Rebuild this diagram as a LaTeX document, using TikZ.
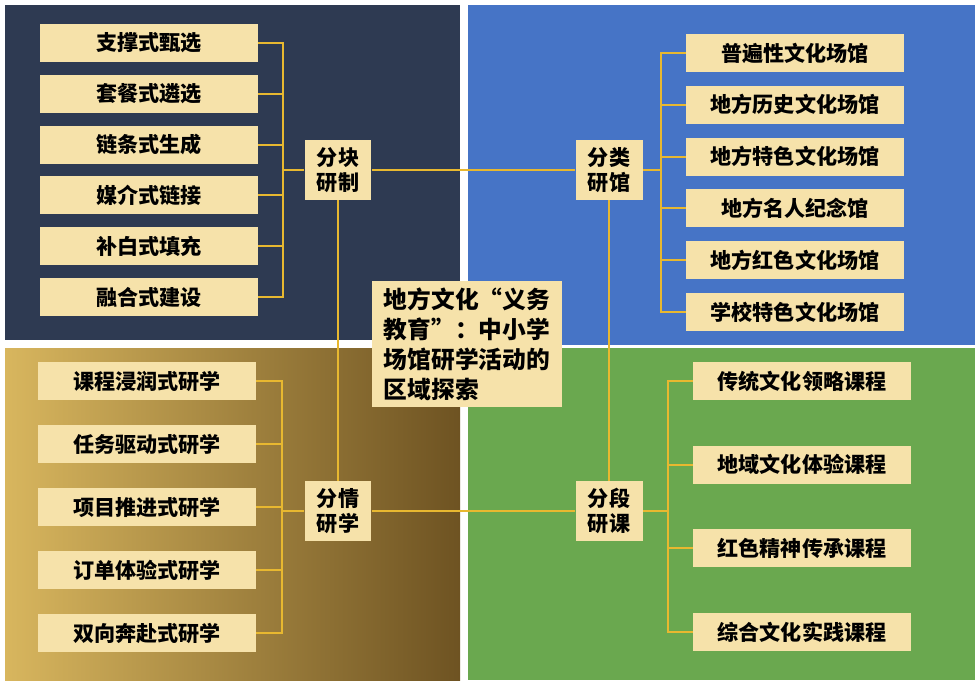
\documentclass[tikz,border=0pt]{standalone}
\usepackage{fontspec}
\newfontfamily\cjk{Noto Sans CJK SC}
\usetikzlibrary{positioning,calc}
\definecolor{myNavy}{HTML}{2E3A52}
\definecolor{myBlue}{HTML}{4674C6}
\definecolor{myGreen}{HTML}{6AA84F}
\definecolor{myGoldL}{HTML}{D8B65E}
\definecolor{myGoldD}{HTML}{6E5322}
\definecolor{myBox}{HTML}{F6E2AA}
\definecolor{myLine}{HTML}{E8B830}
\begin{document}
\begin{tikzpicture}
[
x=0.02cm, y=-0.02cm,
item/.style={fill=myBox,minimum width=4.36cm,minimum height=0.76cm,inner sep=0pt,font=\cjk\bfseries\fontsize{12}{14}\selectfont},
hub/.style={fill=myBox,minimum width=1.34cm,minimum height=1.2cm,inner sep=1pt,align=center,font=\cjk\bfseries\fontsize{12}{14}\selectfont},
link/.style={myLine,line width=1.2pt},
]
\useasboundingbox (0,0) rectangle (980,686);
\fill[white] (0,0) rectangle (980,686);

% Quadrants
\fill[myNavy] (5,5) rectangle (460,340);
\fill[myBlue] (468,5) rectangle (975,345);
\shade[left color=myGoldL,right color=myGoldD] (5,348) rectangle (460,680);
\fill[myGreen] (468,348) rectangle (975,680);

% Hubs
\node[hub] (tl) at (338,170) {分块\\研制};
\node[hub] (tr) at (609,170) {分类\\研馆};
\node[hub] (bl) at (338,511) {分情\\研学};
\node[hub] (br) at (609,511) {分段\\研课};

% Items
\foreach \t [count=\i] in {支撑式甄选,套餐式遴选,链条式生成,媒介式链接,补白式填充,融合式建设}{
  \node[item] (a\i) at (149,{43+50.8*(\i-1)}) {\t};
}
\foreach \t [count=\i] in {普遍性文化场馆,地方历史文化场馆,地方特色文化场馆,地方名人纪念馆,地方红色文化场馆,学校特色文化场馆}{
  \node[item] (b\i) at (795,{53+51.8*(\i-1)}) {\t};
}
\foreach \t [count=\i] in {课程浸润式研学,任务驱动式研学,项目推进式研学,订单体验式研学,双向奔赴式研学}{
  \node[item] (c\i) at (147,{381+63*(\i-1)}) {\t};
}
\foreach \t [count=\i] in {传统文化领略课程,地域文化体验课程,红色精神传承课程,综合文化实践课程}{
  \node[item] (d\i) at (802,{381+83.7*(\i-1)}) {\t};
}

% Brackets
\draw[link] (a1.east) -- ++(25,0) |- (a6.east);
\foreach \i in {2,...,5} \draw[link] (a\i.east) -- ++(25,0);
\draw[link] (a1.east) ++(25,0) |- (tl.west);
\draw[link] (b1.west) -- ++(-25,0) |- (b6.west);
\foreach \i in {2,...,5} \draw[link] (b\i.west) -- ++(-25,0);
\draw[link] (b1.west) ++(-25,0) |- (tr.east);
\draw[link] (c1.east) -- ++(26,0) |- (c5.east);
\foreach \i in {2,...,4} \draw[link] (c\i.east) -- ++(26,0);
\draw[link] (c1.east) ++(26,0) |- (bl.west);
\draw[link] (d1.west) -- ++(-25,0) |- (d4.west);
\foreach \i in {2,3} \draw[link] (d\i.west) -- ++(-25,0);
\draw[link] (d1.west) ++(-25,0) |- (br.east);

% Hub links
\draw[link] (tl) -- (tr);
\draw[link] (bl) -- (br);
\draw[link] (tl) -- (bl);
\draw[link] (tr) -- (br);

% Centre
\node[fill=myBox,minimum width=3.8cm,minimum height=2.44cm,inner sep=4pt,align=left,font=\cjk\bfseries\fontsize{13.5}{17}\selectfont] (ctr) at (467,344) {地方文化“义务\\教育”：中小学\\场馆研学活动的\\区域探索};
\end{tikzpicture}
\end{document}
